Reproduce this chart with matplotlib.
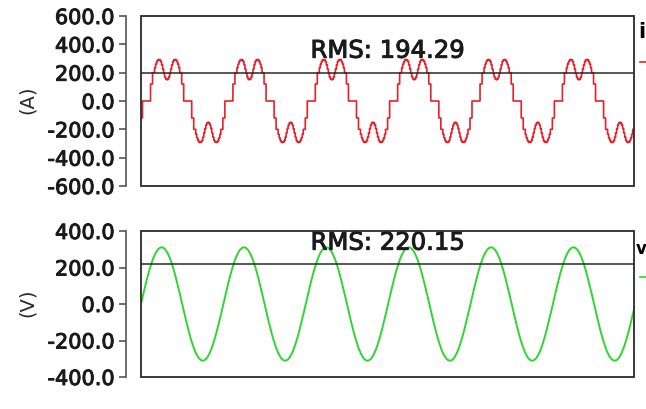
import matplotlib
matplotlib.use("Agg")
import matplotlib.pyplot as plt
import matplotlib.patheffects as pe
from matplotlib.patches import Rectangle
from matplotlib.lines import Line2D
import numpy as np

# one half cycle of the current, 1 sample per 1/82 of a period (A)
current_pos_half = [120, 120, 200, 200, 235, 260, 278, 290, 293, 290, 278, 255, 225,
                    195, 170, 155, 150, 155, 170, 195, 225, 255, 278, 290, 293, 290,
                    278, 260, 235, 200, 200, 120, 120, 0, 0, 0, 0, 0, 0, 0, 0]
# one half cycle of the voltage, 20 samples (V)
voltage_pos_half = [0, 49, 96, 141, 183, 220, 252, 277, 296, 307,
                    311, 307, 296, 277, 252, 220, 183, 141, 96, 49]
current_rms = 194.29
voltage_rms = 220.15
period_ms = 20.0
n_cycles = 7
window_ms = 119.7
current_start_sample = 72  # where in the cycle the current trace starts

i_ticks = [-600, -400, -200, 0, 200, 400, 600]
v_ticks = [-400, -200, 0, 200, 400]
i_ticklabels = ["-600.0", "-400.0", "-200.0", "0.0", "200.0", "400.0", "600.0"]
v_ticklabels = ["-400.0", "-200.0", "0.0", "200.0", "400.0"]

RED = "#e8202a"
GREEN = "#2fd62f"
DARK = "#2a2a2a"
HEAVY = [pe.withStroke(linewidth=0.7, foreground="#1a1a1a")]

# build the traces from the per-cycle samples
i_cycle = current_pos_half + [-v for v in current_pos_half]
i_wave = np.array(i_cycle * n_cycles, dtype=float)
dt_i = period_ms / len(i_cycle)
t_i = np.arange(len(i_wave)) * dt_i - current_start_sample * dt_i

v_cycle = voltage_pos_half + [-v for v in voltage_pos_half]
v_wave = np.array(v_cycle * n_cycles + [0], dtype=float)
dt_v = period_ms / len(v_cycle)
t_v = np.arange(len(v_wave)) * dt_v

W, H = 646, 410
fig = plt.figure(figsize=(W / 100, H / 100), dpi=100)
ax1 = fig.add_axes([141 / W, 1 - 187 / H, (634 - 141) / W, (187 - 17) / H])
ax2 = fig.add_axes([141 / W, 1 - 378 / H, (634 - 141) / W, (378 - 232) / H])


def style(ax, ticks, labels):
    for name, sp in ax.spines.items():
        sp.set_visible(name == "left")
    ax.spines["left"].set_position(("outward", 11))
    ax.spines["left"].set_color("#555555")
    ax.spines["left"].set_linewidth(1.2)
    ax.add_patch(Rectangle((0, 0), 1, 1, transform=ax.transAxes, fill=False,
                           ec=DARK, lw=1.3, clip_on=False, zorder=5))
    ax.set_xticks([])
    ax.set_yticks(ticks)
    ax.set_yticklabels(labels, fontsize=15, color="#1a1a1a")
    for lab in ax.get_yticklabels():
        lab.set_path_effects(HEAVY)
    ax.set_ylim(ticks[0], ticks[-1])
    ax.set_xlim(0, window_ms)
    ax.tick_params(axis="y", length=5, width=1.2, color="#555555", pad=3)


style(ax1, i_ticks, i_ticklabels)
style(ax2, v_ticks, v_ticklabels)
fig.text(27 / W, 1 - 100 / H, "(A)", rotation=90, fontsize=14, color="#2a2a2a",
         ha="center", va="center")
fig.text(27 / W, 1 - 303 / H, "(V)", rotation=90, fontsize=14, color="#2a2a2a",
         ha="center", va="center")

ax1.plot(t_i, i_wave, color=RED, lw=1.2, drawstyle="steps-mid")
ax1.axhline(current_rms, color=DARK, lw=1.1)
ax1.text(0.5, 355, "RMS: %.2f" % current_rms, transform=ax1.get_yaxis_transform(),
         ha="center", va="center", fontsize=17.5, color="#1a1a1a", path_effects=HEAVY)

ax2.plot(t_v, v_wave, color=GREEN, lw=1.4)
ax2.axhline(voltage_rms, color=DARK, lw=1.1)
ax2.text(0.5, 336, "RMS: %.2f" % voltage_rms, transform=ax2.get_yaxis_transform(),
         ha="center", va="center", fontsize=17.5, color="#1a1a1a", path_effects=HEAVY)

# legend entries squeezed in at the right edge
fig.text(638 / W, 1 - 32 / H, "i", fontsize=15, fontweight="bold", va="center")
fig.add_artist(Line2D([640 / W, 1.0], [1 - 63 / H] * 2, color=RED, lw=1.2))
fig.text(635.5 / W, 1 - 249 / H, "v", fontsize=12, fontweight="bold", va="center")
fig.add_artist(Line2D([640 / W, 1.0], [1 - 278 / H] * 2, color=GREEN, lw=1.2))

fig.savefig("out.png", dpi=100)
